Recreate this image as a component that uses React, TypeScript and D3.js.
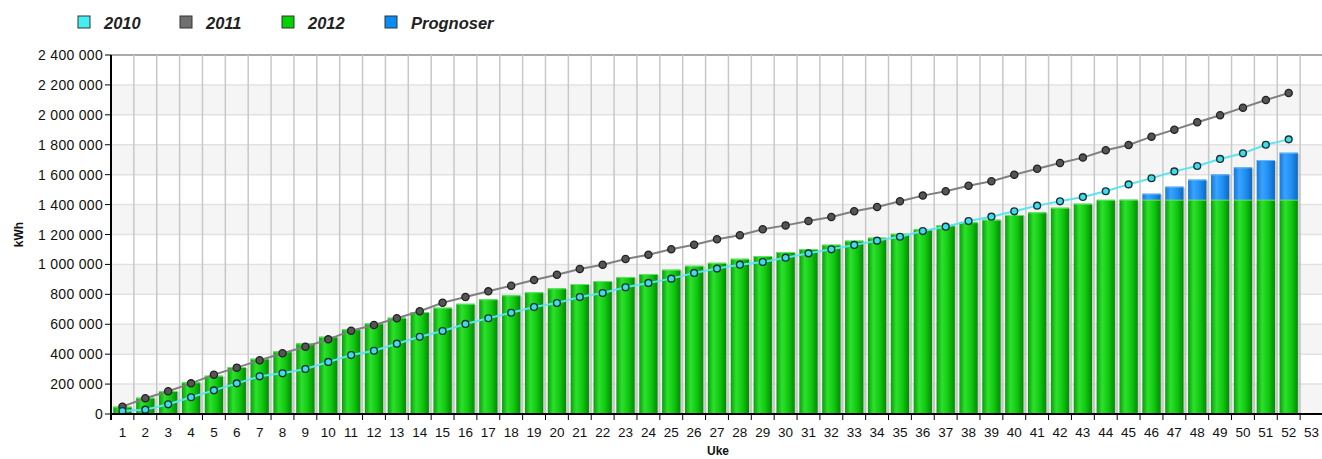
import React from 'react';
import * as d3 from 'd3';

// uke 1..53 (53 har ingen data)
const weeks = d3.range(1, 54).map(String);

// akkumulert kWh, tusen
const y2010 = [20, 29, 65, 112, 158, 205, 252, 272, 301, 348, 394, 423, 470, 516, 555, 602, 640, 677, 715, 742,
  782, 809, 847, 876, 905, 943, 972, 998, 1016, 1045, 1074, 1101, 1130, 1159, 1185, 1223, 1252, 1290, 1319, 1355,
  1393, 1422, 1451, 1489, 1535, 1576, 1622, 1658, 1705, 1743, 1800, 1836];
const y2011 = [49, 105, 152, 205, 263, 310, 359, 406, 450, 499, 557, 595, 640, 687, 744, 782, 820, 858, 896, 931,
  969, 998, 1036, 1065, 1101, 1132, 1168, 1195, 1235, 1261, 1290, 1317, 1355, 1384, 1422, 1460, 1489, 1526, 1556, 1600,
  1640, 1678, 1714, 1763, 1798, 1854, 1901, 1950, 1997, 2048, 2099, 2146];
const y2012 = [49, 109, 154, 212, 256, 314, 370, 419, 472, 517, 566, 606, 644, 682, 711, 737, 767, 794, 814, 840,
  869, 889, 916, 936, 965, 991, 1011, 1038, 1056, 1083, 1103, 1132, 1159, 1179, 1205, 1235, 1261, 1282, 1299, 1330,
  1348, 1379, 1406, 1432, 1433, 1433, 1433, 1433, 1433, 1433, 1433, 1433];
const prognoser = [0, 0, 0, 0, 0, 0, 0, 0, 0, 0, 0, 0, 0, 0, 0, 0, 0, 0, 0, 0,
  0, 0, 0, 0, 0, 0, 0, 0, 0, 0, 0, 0, 0, 0, 0, 0, 0, 0, 0, 0,
  0, 0, 0, 0, 0, 40, 87, 134, 169, 216, 265, 314];

const yTicks = d3.range(0, 2400001, 200000);

const legendItems = [
  { name: '2010', color: '#44eef2' },
  { name: '2011', color: '#707070' },
  { name: '2012', color: '#00d400' },
  { name: 'Prognoser', color: '#0a8cf5' },
];

const left = 111, right = 1323, top = 55, bottom = 414;
const font = '"Liberation Sans", Arial, sans-serif';

const fmt = d3.formatLocale({ decimal: ',', thousands: '\u00a0', grouping: [3], currency: ['', ''] }).format(',d');

export default function App() {
  const x = d3.scaleBand().domain(weeks).range([left, right]).padding(0);
  const y = d3.scaleLinear().domain([0, 2400000]).range([bottom, top]);
  const bw = x.bandwidth();
  const barW = bw * 0.8;
  const cx = (i: number) => (x(weeks[i]) as number) + bw / 2;

  const line = d3.line<number>()
    .x((d, i) => cx(i))
    .y((d) => y(d * 1000));

  return (
    <svg width={1322} height={459} style={{ display: 'block', position: 'absolute', left: 0, top: 0 }}>
      <defs>
        <linearGradient id="gGreen" x1="0" x2="1" y1="0" y2="0">
          <stop offset="0" stopColor="#06a006" />
          <stop offset="0.3" stopColor="#2ee02e" />
          <stop offset="0.65" stopColor="#10c810" />
          <stop offset="1" stopColor="#038a03" />
        </linearGradient>
        <linearGradient id="gBlue" x1="0" x2="1" y1="0" y2="0">
          <stop offset="0" stopColor="#1478d8" />
          <stop offset="0.3" stopColor="#3aa2ff" />
          <stop offset="0.65" stopColor="#1e8ef0" />
          <stop offset="1" stopColor="#0d68c0" />
        </linearGradient>
      </defs>
      <rect x={0} y={0} width={1322} height={459} fill="#fff" />

      {/* bakgrunnsbånd */}
      {yTicks.slice(0, -1).map((t, i) => i % 2 === 0 ? (
        <rect key={'b' + t} x={left} y={y(t + 200000)} width={right - left} height={y(t) - y(t + 200000)} fill="#f5f5f5" />
      ) : null)}
      {/* horisontale linjer */}
      {yTicks.map((t) => (
        <line key={'h' + t} x1={left} x2={right} y1={y(t)} y2={y(t)} stroke={t === 2400000 ? '#555' : '#e2e2e2'} strokeWidth={t === 2400000 ? 1 : 1.5} />
      ))}
      {/* vertikale linjer */}
      {weeks.slice(1).map((w) => (
        <line key={'v' + w} x1={x(w)} x2={x(w)} y1={top} y2={bottom} stroke="#c8c8c8" strokeWidth={1.5} />
      ))}

      {/* søyler 2012 + prognoser */}
      {y2012.map((v, i) => {
        const x0 = cx(i) - barW / 2;
        const total = v + prognoser[i];
        return (
          <g key={'bar' + i}>
            <rect x={x0 + 2} y={y(total * 1000) + 1} width={barW} height={bottom - y(total * 1000) - 1} fill="#bdbdbd" opacity={0.7} />
            <rect x={x0} y={y(v * 1000)} width={barW} height={bottom - y(v * 1000)} fill="url(#gGreen)" />
            <line x1={x0} x2={x0 + barW} y1={y(v * 1000) + 0.5} y2={y(v * 1000) + 0.5} stroke="#5fe85f" strokeWidth={1} />
            {prognoser[i] > 0 && (
              <g>
                <rect x={x0} y={y(total * 1000)} width={barW} height={y(v * 1000) - y(total * 1000)} fill="url(#gBlue)" />
                <line x1={x0} x2={x0 + barW} y1={y(total * 1000) + 0.5} y2={y(total * 1000) + 0.5} stroke="#66b8ff" strokeWidth={1} />
              </g>
            )}
          </g>
        );
      })}

      {/* linjer */}
      <path d={line(y2011) as string} fill="none" stroke="#808080" strokeWidth={2} />
      <path d={line(y2010) as string} fill="none" stroke="#5ae6ee" strokeWidth={2} />
      {y2011.map((v, i) => (
        <circle key={'p11' + i} cx={cx(i)} cy={y(v * 1000)} r={3.6} fill="#555" stroke="#222" strokeWidth={1.3} />
      ))}
      {y2010.map((v, i) => (
        <circle key={'p10' + i} cx={cx(i)} cy={y(v * 1000)} r={3.4} fill="#40dcea" stroke="#1a3036" strokeWidth={1.4} />
      ))}

      {/* y-akse */}
      <line x1={left} x2={left} y1={top} y2={bottom + 6} stroke="#000" strokeWidth={2} />
      {yTicks.map((t) => (
        <g key={'yt' + t}>
          <line x1={left - 6} x2={left} y1={y(t)} y2={y(t)} stroke="#000" strokeWidth={1} />
          <text x={left - 8} y={y(t) + 5} textAnchor="end" fontFamily={font} fontSize={14} letterSpacing={0.3} fill="#111">{fmt(t)}</text>
        </g>
      ))}
      <text transform={`translate(23,${(top + bottom) / 2}) rotate(-90)`} textAnchor="middle" fontFamily={font} fontSize={12} fontWeight="bold" fill="#111">kWh</text>

      {/* x-akse */}
      <line x1={left} x2={right} y1={bottom} y2={bottom} stroke="#000" strokeWidth={2} />
      {weeks.map((w, i) => (
        <g key={'xt' + w}>
          <line x1={(x(w) as number) + bw} x2={(x(w) as number) + bw} y1={bottom} y2={bottom + 6} stroke="#000" strokeWidth={1} />
          <text x={cx(i)} y={437} textAnchor="middle" fontFamily={font} fontSize={13.5} fill="#111">{w}</text>
        </g>
      ))}
      <text x={718} y={455} textAnchor="middle" fontFamily={font} fontSize={12} fontWeight="bold" fill="#111">Uke</text>

      {/* legend */}
      {legendItems.map((d, i) => {
        const lx = [78, 180, 282, 385][i];
        return (
          <g key={'lg' + d.name}>
            <rect x={lx} y={16} width={12} height={12} fill={d.color} stroke="#333" strokeWidth={1} />
            <text x={lx + 26} y={29} fontFamily={font} fontSize={16.5} fontWeight="bold" fontStyle="italic" fill="#222">{d.name}</text>
          </g>
        );
      })}
    </svg>
  );
}
